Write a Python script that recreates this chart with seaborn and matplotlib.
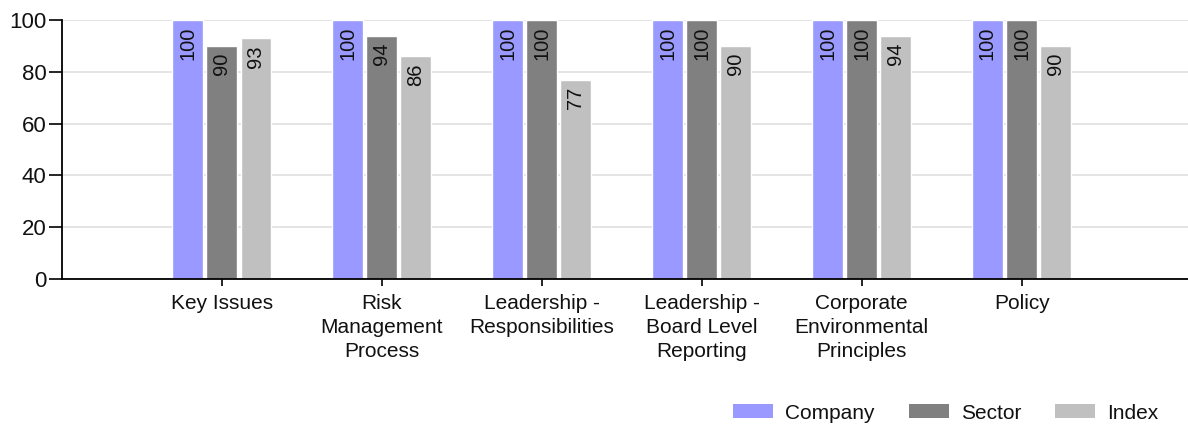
import pandas as pd
import seaborn as sns
import matplotlib.pyplot as plt
from matplotlib.patches import Patch

# chart data
categories = ["Key Issues", "Risk\nManagement\nProcess", "Leadership -\nResponsibilities",
              "Leadership -\nBoard Level\nReporting", "Corporate\nEnvironmental\nPrinciples", "Policy"]
series = ["Company", "Sector", "Index"]
company = [100, 100, 100, 100, 100, 100]
sector = [90, 94, 100, 100, 100, 100]
index_vals = [93, 86, 77, 90, 94, 90]
colors = ["#9999ff", "#808080", "#c0c0c0"]

df = pd.DataFrame({
    "category": categories * 3,
    "series": [s for s in series for _ in categories],
    "value": company + sector + index_vals,
})

sns.set_style("white")
plt.rcParams["font.family"] = ["Liberation Sans", "DejaVu Sans"]

fig = plt.figure(figsize=(11.88, 4.28), dpi=100)
ax = fig.add_axes([0.052, 0.348, 0.948, 0.605])

sns.barplot(data=df, x="category", y="value", hue="series", order=categories,
            hue_order=series, palette=colors, width=0.64, gap=0.1,
            saturation=1, ax=ax, legend=False)

# value labels, rotated inside the bar tops
for cont in ax.containers:
    for bar in cont:
        h = bar.get_height()
        ax.annotate(f"{h:.0f}", (bar.get_x() + bar.get_width() / 2, h),
                    xytext=(0, -5), textcoords="offset points",
                    rotation=90, ha="center", va="top", fontsize=14.5, color="#111111")

ax.set_xlim(-1, 6.04)
ax.set_ylim(0, 100)
ax.set_yticks([0, 20, 40, 60, 80, 100])
ax.grid(axis="y", color="#e2e2e2", linewidth=1.3)
ax.set_axisbelow(True)
ax.set_xlabel("")
ax.set_ylabel("")

for side in ["top", "right"]:
    ax.spines[side].set_visible(False)
for side in ["left", "bottom"]:
    ax.spines[side].set_color("black")
    ax.spines[side].set_linewidth(1.3)

ax.tick_params(axis="y", length=9.5, width=1.2, color="black", labelsize=16, pad=1.5,
               labelcolor="#111111", left=True)
ax.tick_params(axis="x", length=5, width=1.2, color="black", labelsize=15, pad=6,
               labelcolor="#111111", bottom=True)
for lab in ax.get_xticklabels():
    lab.set_linespacing(1.33)

handles = [Patch(facecolor=c, edgecolor="none") for c in colors]
fig.legend(handles, series, loc="center right", bbox_to_anchor=(0.991, 0.035),
           ncol=3, frameon=False, fontsize=15, handlelength=1.92, handleheight=0.67,
           handletextpad=0.58, columnspacing=1.63, labelcolor="#111111")

fig.savefig("out.png", dpi=100)
